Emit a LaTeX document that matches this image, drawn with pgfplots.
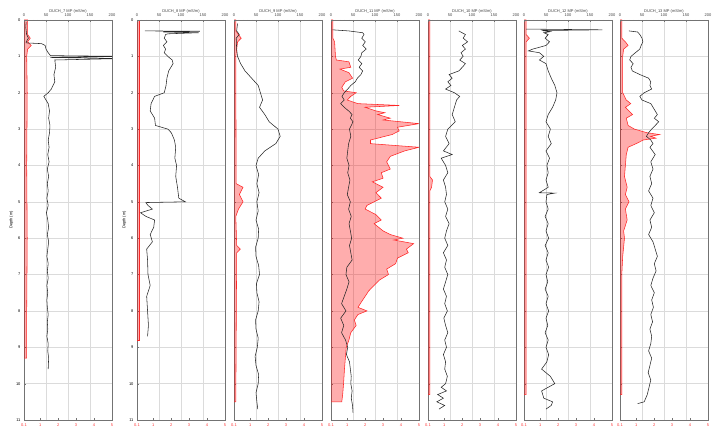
\documentclass[border=0pt]{standalone}
\usepackage{fontspec}
\setmainfont{Liberation Sans}
\usepackage{pgfplots}
\pgfplotsset{compat=1.18}
\newcommand{\fs}{\fontsize{4}{4.5}\selectfont}
\pgfplotsset{
  panelbase/.style={width=88pt,height=400pt,scale only axis,anchor=south west,
    ymin=0,ymax=11,y dir=reverse,
    /pgf/number format/assume math mode=true,
    tick label style={font=\fs},
    major tick length=2pt, minor tick length=1.2pt,
    axis line style={black!55}, tick style={black!55}},
}
\newcommand{\panel}[5]{%
\begin{axis}[panelbase, at={(#1pt,10pt)},
  xmin=0.1,xmax=5, xtick={0.1,1,2,3,4,5}, xticklabels={0.1,1,2,3,4,5},
  xtick pos=left, x tick label style={red!80},
  ytick={0,...,11}, minor y tick num=4, ytick pos=left,
  ymajorgrids, grid style={black!14,line width=0.4pt},
  extra x ticks={1.325,2.55,3.775}, extra x tick labels={},
  extra x tick style={grid=major, major tick length=0pt},
  #3]
\addplot[draw=red!85, line width=0.55pt, fill=red, fill opacity=0.32] coordinates {#4};
\end{axis}
\begin{axis}[panelbase, at={(#1pt,10pt)},
  xmin=0,xmax=200, xtick={0,50,...,200}, minor x tick num=4,
  axis x line*=top, axis y line=none,
  x tick label style={black!75},
  title={#2}, title style={font=\fs, black!75, yshift=-3pt}]
\addplot[black!85, line width=0.55pt] coordinates {#5};
\end{axis}}

\begin{document}
\begin{tikzpicture}
\path (0,0) rectangle (724pt,430pt);
% Panel 1
\panel{24}{DUCH\_7 MP (mS/m)}{ylabel={Depth (m)}, ylabel style={font=\fs, yshift=-4pt}}
{(0.1,0)(0.3,0)(0.3,0.4)(0.45,0.5)(0.3,0.6)(0.5,0.7)(0.3,0.8)(0.25,1)(0.28,2)(0.25,4)(0.28,6)(0.25,8)(0.25,9.3)(0.1,9.3)}
{(5,0.05)(4,0.2)(6,0.4)(10,0.5)(5,0.6)(5,0.63)(40,0.65)(48,0.7)(50,0.8)(55,0.9)(60,0.98)(220,1.0)(60,1.03)(220,1.06)(70,1.1)(72,1.3)(68,1.5)(70,1.7)(62,1.9)(55,2.0)(45,2.1)(55,2.3)(58,2.5)(56,2.7)(59,2.9)(58,3.1)(55,3.3)(57,3.5)(54,3.7)(57,3.9)(53,4.1)(56,4.3)(53,4.5)(55,4.7)(52,4.9)(55,5.1)(51,5.3)(54,5.5)(56,5.7)(53,5.9)(56,6.1)(54,6.3)(52,6.5)(55,6.7)(53,6.9)(55,7.1)(52,7.3)(54,7.5)(52,7.7)(53,7.9)(55,8.1)(53,8.3)(54,8.5)(52,8.7)(55,8.9)(54,9.1)(56,9.3)(55,9.6)}
% Panel 2
\panel{137}{DUCH\_8 MP (mS/m)}{ylabel={Depth (m)}, ylabel style={font=\fs, yshift=-4pt}}
{(0.1,0)(0.2,0)(0.2,8.8)(0.1,8.8)}
{(18,0.3)(143,0.31)(60,0.33)(140,0.35)(70,0.38)(65,0.4)(62,0.5)(68,0.6)(60,0.7)(65,0.8)(62,0.9)(70,1.0)(80,1.1)(82,1.2)(72,1.4)(68,1.6)(66,1.8)(62,2.0)(40,2.1)(32,2.3)(30,2.5)(40,2.7)(42,2.9)(70,3.0)(78,3.1)(85,3.3)(88,3.5)(86,3.8)(90,4.0)(88,4.3)(92,4.6)(95,4.9)(110,5.0)(20,5.02)(25,5.1)(35,5.2)(8,5.3)(20,5.4)(40,5.5)(38,5.7)(30,5.9)(35,6.1)(22,6.3)(24,6.6)(25,7.0)(30,7.3)(22,7.6)(24,8.0)(26,8.4)(24,8.7)}
% Panel 3
\panel{234}{DUCH\_9 MP (mS/m)}{yticklabels={}}
{(0.1,0)(0.2,0)(0.2,0.3)(0.35,0.4)(0.5,0.5)(0.3,0.6)(0.2,1)(0.22,4.5)(0.6,4.6)(0.4,4.8)(0.6,5.0)(0.35,5.2)(0.2,5.4)(0.25,6.2)(0.45,6.3)(0.25,6.4)(0.2,10.5)(0.1,10.5)}
{(8,0.1)(6,0.3)(12,0.4)(5,0.5)(6,0.8)(8,1.0)(15,1.2)(25,1.4)(40,1.6)(55,1.8)(60,2.0)(65,2.2)(58,2.4)(70,2.6)(80,2.8)(100,3.0)(105,3.2)(95,3.4)(70,3.6)(55,3.8)(50,4.0)(56,4.25)(52,4.5)(57,4.75)(52,5.0)(55,5.25)(50,5.5)(56,5.75)(55,6)(49,6.25)(50,6.5)(56,6.75)(58,7)(51,7.25)(52,7.5)(57,7.75)(55,8)(49,8.25)(50,8.5)(55,8.75)(53,9)(48,9.25)(50,9.5)(56,9.75)(55,10)(50,10.25)(52,10.5)(54,10.7)}
% Panel 4
\panel{331}{DUCH\_11 MP (mS/m)}{yticklabels={}}
{(0.1,0)(0.2,0)(0.2,0.5)(0.3,0.6)(0.35,1.0)(0.4,1.1)(1.1,1.15)(1.2,1.3)(0.6,1.35)(1.1,1.45)(1.3,1.6)(0.9,1.7)(0.7,1.85)(0.8,1.95)(1.5,2.0)(1.2,2.1)(1.0,2.2)(1.6,2.3)(3.9,2.35)(2.0,2.4)(2.6,2.5)(3.1,2.55)(2.7,2.6)(3.4,2.7)(3.0,2.75)(5.0,2.85)(3.8,2.95)(3.9,3.05)(3.5,3.15)(2.3,3.3)(2.3,3.4)(5.0,3.5)(4.2,3.6)(3.4,3.75)(3.2,3.9)(3.4,4.1)(2.9,4.2)(3.0,4.35)(2.4,4.45)(3.0,4.6)(2.6,4.75)(2.9,4.9)(2.1,5.1)(2.0,5.2)(2.6,5.35)(2.9,5.5)(2.5,5.6)(3.0,5.8)(3.4,5.9)(4.1,6.0)(3.6,6.05)(4.7,6.15)(4.3,6.3)(4.4,6.4)(3.8,6.55)(3.7,6.7)(3.2,6.85)(3.3,7.0)(2.8,7.15)(2.5,7.3)(2.2,7.45)(2.0,7.6)(1.8,7.75)(1.6,7.9)(2.1,8.0)(1.6,8.1)(1.4,8.25)(1.5,8.4)(1.2,8.6)(1.1,8.8)(0.95,9.0)(0.9,9.3)(0.85,9.6)(0.8,10.0)(0.75,10.3)(0.7,10.5)(0.1,10.5)}
{(3,0.27)(40,0.3)(72,0.35)(75,0.4)(70,0.5)(78,0.6)(72,0.7)(80,0.8)(70,0.9)(68,1.0)(62,1.1)(70,1.2)(64,1.3)(72,1.4)(68,1.5)(60,1.6)(55,1.7)(45,1.8)(38,1.9)(30,2.0)(25,2.1)(30,2.2)(22,2.3)(30,2.4)(40,2.5)(48,2.6)(44,2.7)(50,2.8)(46,2.9)(42,3.0)(45,3.2)(40,3.4)(38,3.6)(36,3.8)(41,4.0)(38,4.2)(43,4.4)(40,4.6)(37,4.8)(44,5.0)(40,5.2)(46,5.4)(41,5.6)(44,5.8)(47,6.0)(42,6.2)(45,6.4)(48,6.6)(36,6.8)(34,7.0)(41,7.2)(36,7.4)(30,7.6)(24,7.8)(34,8.0)(22,8.2)(29,8.4)(24,8.6)(33,8.8)(38,9.0)(35,9.2)(42,9.4)(44,9.6)(46,9.8)(45,10.0)(48,10.2)(46,10.4)(49,10.6)(50,10.8)}
% Panel 5
\panel{428}{DUCH\_10 MP (mS/m)}{yticklabels={}}
{(0.1,0)(0.2,0)(0.2,4.3)(0.35,4.4)(0.3,4.6)(0.2,4.7)(0.2,10.3)(0.1,10.3)}
{(70,0.3)(85,0.4)(80,0.5)(90,0.6)(78,0.7)(85,0.8)(75,0.9)(80,1.0)(72,1.1)(85,1.2)(78,1.3)(70,1.4)(48,1.5)(55,1.6)(45,1.7)(52,1.8)(40,1.9)(60,2.0)(72,2.1)(65,2.2)(60,2.4)(55,2.6)(62,2.8)(45,3.0)(40,3.2)(48,3.4)(35,3.6)(55,3.7)(30,3.8)(40,4.0)(45,4.2)(35,4.4)(40,4.6)(42,4.8)(38,5.0)(45,5.2)(40,5.4)(48,5.6)(42,5.8)(38,6.0)(45,6.2)(35,6.4)(42,6.6)(38,6.8)(45,7.0)(40,7.2)(35,7.4)(42,7.6)(38,7.8)(44,8.0)(36,8.2)(40,8.4)(45,8.6)(38,8.8)(42,9.0)(35,9.2)(40,9.4)(38,9.6)(44,9.8)(40,10.0)(30,10.1)(42,10.2)(22,10.3)(35,10.4)(20,10.5)(38,10.6)(25,10.7)}
% Panel 6
\panel{524}{DUCH\_12 MP (mS/m)}{yticklabels={}}
{(0.1,0)(0.22,0)(0.22,0.4)(0.4,0.5)(0.22,0.6)(0.22,10.3)(0.1,10.3)}
{(5,0.25)(178,0.27)(40,0.29)(60,0.32)(45,0.35)(55,0.4)(48,0.5)(58,0.6)(50,0.7)(20,0.8)(10,0.85)(35,0.9)(45,1.0)(35,1.1)(50,1.2)(55,1.4)(62,1.6)(70,1.8)(75,2.0)(72,2.2)(65,2.4)(55,2.6)(50,2.8)(60,3.0)(55,3.2)(62,3.4)(50,3.6)(58,3.8)(52,4.0)(55,4.2)(50,4.4)(55,4.6)(35,4.75)(70,4.76)(52,4.8)(50,5.0)(55,5.2)(48,5.4)(55,5.6)(50,5.8)(56,6.0)(48,6.2)(55,6.4)(50,6.6)(56,6.8)(50,7.0)(54,7.2)(48,7.4)(55,7.6)(50,7.8)(56,8.0)(50,8.2)(54,8.4)(48,8.6)(55,8.8)(50,9.0)(56,9.2)(52,9.4)(40,9.6)(60,9.8)(70,10.0)(55,10.1)(40,10.2)(45,10.4)(65,10.5)(62,10.6)(50,10.7)}
% Panel 7
\panel{620}{DUCH\_13 MP (mS/m)}{yticklabels={}}
{(0.1,0)(0.2,0)(0.2,0.5)(0.4,0.6)(0.55,0.7)(0.3,0.8)(0.25,1.0)(0.25,2.0)(0.45,2.2)(0.7,2.3)(0.4,2.4)(0.6,2.5)(0.8,2.6)(0.45,2.7)(0.55,2.9)(0.9,3.0)(1.6,3.1)(2.3,3.15)(1.8,3.2)(2.1,3.25)(1.4,3.3)(1.0,3.4)(0.55,3.5)(0.45,3.7)(0.4,4.0)(0.35,4.3)(0.5,4.6)(0.4,4.8)(0.6,5.0)(0.4,5.2)(0.5,5.5)(0.3,5.8)(0.35,6.0)(0.25,6.5)(0.2,7.0)(0.2,10.3)(0.1,10.3)}
{(20,0.3)(40,0.33)(45,0.4)(50,0.5)(52,0.6)(48,0.7)(45,0.8)(35,0.9)(25,1.0)(22,1.1)(30,1.2)(25,1.3)(28,1.4)(45,1.5)(65,1.6)(70,1.7)(68,1.8)(72,1.9)(55,2.0)(45,2.1)(50,2.2)(70,2.3)(75,2.4)(80,2.5)(85,2.6)(78,2.7)(88,2.8)(80,2.9)(72,3.0)(65,3.1)(60,3.2)(70,3.3)(75,3.4)(68,3.5)(80,3.7)(70,3.9)(75,4.1)(68,4.3)(72,4.5)(65,4.7)(75,4.9)(70,5.1)(78,5.3)(68,5.5)(72,5.7)(65,5.9)(75,6.1)(80,6.3)(85,6.5)(78,6.7)(82,6.9)(75,7.1)(70,7.3)(78,7.5)(72,7.7)(76,7.9)(70,8.1)(74,8.3)(68,8.5)(72,8.7)(70,8.9)(65,9.1)(72,9.3)(68,9.5)(64,9.7)(70,9.9)(66,10.1)(62,10.3)(55,10.5)(40,10.55)}
\end{tikzpicture}
\end{document}
